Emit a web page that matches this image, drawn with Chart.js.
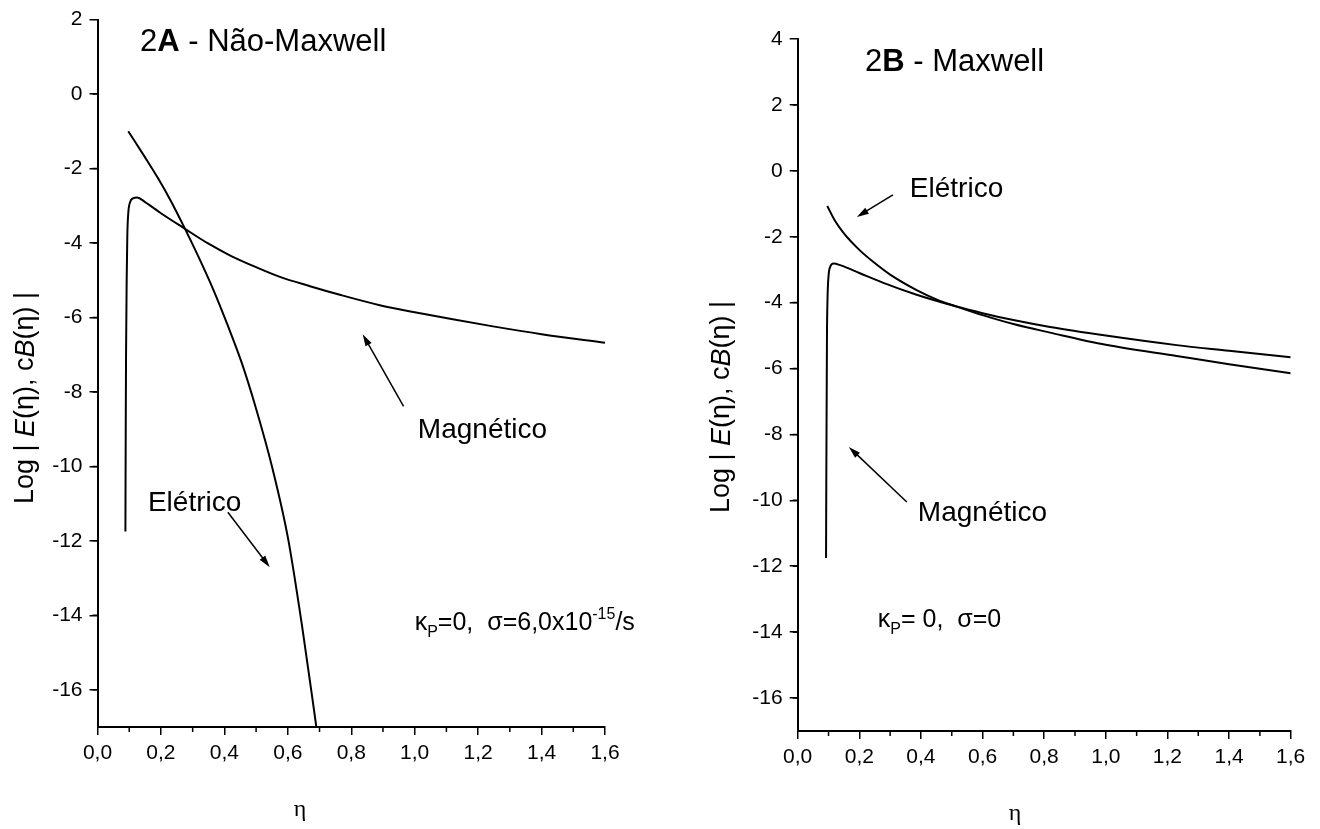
<!DOCTYPE html>
<html>
<head>
<meta charset="utf-8">
<script src="https://cdn.jsdelivr.net/npm/chart.js@4.4.1/dist/chart.umd.min.js"></script>
<style>
  html, body { margin: 0; padding: 0; background: #fff; }
  #wrap { position: relative; width: 1320px; height: 829px; overflow: hidden; }
  .panel { position: absolute; top: 0; width: 660px; height: 829px; }
</style>
</head>
<body>
<div id="wrap">
  <div class="panel" style="left:0"><canvas id="chartA" width="660" height="829"></canvas></div>
  <div class="panel" style="left:660px"><canvas id="chartB" width="660" height="829"></canvas></div>
</div>
<script>
// tick values
const etaTicks = [0, 0.2, 0.4, 0.6, 0.8, 1.0, 1.2, 1.4, 1.6];
const logTicksA = [2, 0, -2, -4, -6, -8, -10, -12, -14, -16];
const logTicksB = [4, 2, 0, -2, -4, -6, -8, -10, -12, -14, -16];

// 2A - Não-Maxwell
const etaMagA = [0.088, 0.089, 0.090, 0.092, 0.094, 0.097, 0.103, 0.112, 0.125, 0.15, 0.2, 0.276, 0.35, 0.417, 0.5, 0.575, 0.67, 0.764, 0.89, 1.0, 1.12, 1.247, 1.4, 1.6];
const logMagA = [-11.75, -9.0, -7.0, -5.0, -3.8, -3.2, -2.9, -2.8, -2.78, -2.9, -3.2, -3.62, -4.02, -4.33, -4.65, -4.91, -5.16, -5.39, -5.67, -5.86, -6.05, -6.24, -6.45, -6.68];
const etaEleA = [0.097, 0.12, 0.15, 0.19, 0.23, 0.276, 0.32, 0.365, 0.41, 0.454, 0.5, 0.55, 0.6, 0.646, 0.69];
const logEleA = [-1.0, -1.3, -1.7, -2.25, -2.85, -3.62, -4.4, -5.25, -6.2, -7.2, -8.45, -10.0, -11.9, -14.35, -17.0];

// 2B - Maxwell
const etaMagB = [0.092, 0.093, 0.094, 0.095, 0.097, 0.1, 0.106, 0.116, 0.14, 0.2, 0.278, 0.386, 0.516, 0.6, 0.7, 0.819, 1.0, 1.23, 1.4, 1.6];
const logMagB = [-11.75, -9.0, -7.0, -5.0, -3.8, -3.2, -2.9, -2.81, -2.87, -3.1, -3.4, -3.76, -4.12, -4.32, -4.53, -4.74, -5.0, -5.29, -5.46, -5.66];
const etaEleB = [0.096, 0.12, 0.15, 0.2, 0.25, 0.3, 0.386, 0.45, 0.516, 0.6, 0.7, 0.819, 1.0, 1.23, 1.4, 1.6];
const logEleB = [-1.07, -1.5, -1.9, -2.4, -2.8, -3.15, -3.62, -3.9, -4.12, -4.38, -4.65, -4.91, -5.28, -5.62, -5.87, -6.14];

const SANS = '"Liberation Sans", Arial, sans-serif';
const SERIF = '"Liberation Serif", "Times New Roman", serif';

function pts(xs, ys) {
  return xs.map((x, i) => ({ x: x, y: ys[i] }));
}

function curve(label, xs, ys) {
  return {
    label: label,
    data: pts(xs, ys),
    borderColor: '#000',
    borderWidth: 2,
    pointRadius: 0,
    fill: false,
    cubicInterpolationMode: 'monotone'
  };
}

// draws a run of text pieces: {t, style, size, dy}
function richText(ctx, x, y, parts, align) {
  let total = 0;
  parts.forEach(p => {
    ctx.font = (p.style || '') + ' ' + p.size + 'px ' + (p.family || SANS);
    p.w = ctx.measureText(p.t).width;
    total += p.w;
  });
  let cx = align === 'center' ? x - total / 2 : x;
  parts.forEach(p => {
    ctx.font = (p.style || '') + ' ' + p.size + 'px ' + (p.family || SANS);
    ctx.fillText(p.t, cx, y + (p.dy || 0));
    cx += p.w;
  });
}

function arrow(ctx, x1, y1, x2, y2) {
  const a = Math.atan2(y2 - y1, x2 - x1);
  const len = 12, half = 3.5;
  ctx.beginPath();
  ctx.moveTo(x1, y1);
  ctx.lineTo(x2 - Math.cos(a) * len * 0.6, y2 - Math.sin(a) * len * 0.6);
  ctx.lineWidth = 1.5;
  ctx.strokeStyle = '#000';
  ctx.stroke();
  ctx.beginPath();
  ctx.moveTo(x2, y2);
  ctx.lineTo(x2 - Math.cos(a) * len + Math.sin(a) * half, y2 - Math.sin(a) * len - Math.cos(a) * half);
  ctx.lineTo(x2 - Math.cos(a) * len - Math.sin(a) * half, y2 - Math.sin(a) * len + Math.cos(a) * half);
  ctx.closePath();
  ctx.fillStyle = '#000';
  ctx.fill();
}

const decorPlugin = {
  id: 'decor',
  afterDraw(chart) {
    const ctx = chart.ctx;
    const sx = chart.scales.x, sy = chart.scales.y;
    const o = chart.options.plugins.decor;
    const area = chart.chartArea;
    ctx.save();
    ctx.fillStyle = '#000';
    ctx.strokeStyle = '#000';

    // minor ticks
    ctx.lineWidth = 1.5;
    ctx.beginPath();
    for (let i = 0; i < etaTicks.length - 1; i++) {
      const px = sx.getPixelForValue((etaTicks[i] + etaTicks[i + 1]) / 2);
      ctx.moveTo(px, area.bottom);
      ctx.lineTo(px, area.bottom + 5);
    }
    for (let v = o.yMin + 1; v < o.yMax; v += 2) {
      const py = sy.getPixelForValue(v);
      ctx.moveTo(area.left, py);
      ctx.lineTo(area.left - 5, py);
    }
    ctx.stroke();

    ctx.textBaseline = 'alphabetic';
    // panel title
    const ts = o.title.size;
    richText(ctx, o.title.x, o.title.y, [
      { t: o.title.num, size: ts },
      { t: o.title.letter, size: ts, style: 'bold' },
      { t: o.title.rest, size: ts }
    ]);

    // y axis title, rotated
    ctx.save();
    ctx.translate(o.yTitle.x, o.yTitle.y);
    ctx.rotate(-Math.PI / 2);
    ctx.textBaseline = 'middle';
    richText(ctx, 0, 0, [
      { t: 'Log | ', size: 27 },
      { t: 'E', size: 27, style: 'italic' },
      { t: '(η), c', size: 27 },
      { t: 'B', size: 27, style: 'italic' },
      { t: '(η) |', size: 27 }
    ], 'center');
    ctx.restore();

    // x axis title
    ctx.textAlign = 'center';
    ctx.font = '24px ' + SERIF;
    ctx.fillText('η', o.xTitle.x, o.xTitle.y);
    ctx.textAlign = 'left';

    // labels and arrows, anchored in data coordinates
    o.notes.forEach(n => {
      richText(ctx, sx.getPixelForValue(n.x), sy.getPixelForValue(n.y), n.parts);
    });
    o.arrows.forEach(a => {
      arrow(ctx, sx.getPixelForValue(a[0]), sy.getPixelForValue(a[1]),
                 sx.getPixelForValue(a[2]), sy.getPixelForValue(a[3]));
    });
    ctx.restore();
  }
};

function makePanel(id, cfg) {
  const tickFont = { family: SANS, size: 21 };
  return new Chart(document.getElementById(id), {
    type: 'line',
    data: { datasets: cfg.datasets },
    options: {
      responsive: false,
      animation: false,
      events: [],
      layout: { autoPadding: false, padding: { left: 0, top: cfg.top, right: cfg.right, bottom: 0 } },
      plugins: {
        legend: { display: false },
        tooltip: { enabled: false },
        decor: cfg.decor
      },
      scales: {
        x: {
          type: 'linear', min: 0, max: 1.6,
          afterBuildTicks: s => { s.ticks = etaTicks.map(v => ({ value: v })); },
          afterFit: s => { s.height = cfg.xh; },
          grid: { drawOnChartArea: false, drawTicks: true, tickLength: 8, color: '#000', lineWidth: 1.5 },
          border: { display: true, color: '#000', width: 2 },
          ticks: {
            color: '#000', font: tickFont, padding: 6, maxRotation: 0, autoSkip: false,
            callback: v => v.toFixed(1).replace('.', ',')
          }
        },
        y: {
          type: 'linear', min: cfg.yMin, max: cfg.yMax,
          afterBuildTicks: s => { s.ticks = cfg.yTicks.map(v => ({ value: v })); },
          afterFit: s => { s.width = cfg.yw; },
          grid: { drawOnChartArea: false, drawTicks: true, tickLength: 8, color: '#000', lineWidth: 1.5 },
          border: { display: true, color: '#000', width: 2 },
          ticks: { color: '#000', font: tickFont, padding: 7, autoSkip: false, callback: v => String(v) }
        }
      }
    },
    plugins: [decorPlugin]
  });
}

makePanel('chartA', {
  datasets: [curve('Magnético', etaMagA, logMagA), curve('Elétrico', etaEleA, logEleA)],
  yMin: -17, yMax: 2, yTicks: logTicksA,
  top: 19, right: 55, xh: 102, yw: 97.5,
  decor: {
    yMin: -17, yMax: 2,
    title: { x: 140, y: 51, size: 31, num: '2', letter: 'A', rest: ' - Não-Maxwell' },
    yTitle: { x: 26, y: 398 },
    xTitle: { x: 300, y: 816 },
    notes: [
      { x: 1.01, y: -9.24, parts: [{ t: 'Magnético', size: 28 }] },
      { x: 0.159, y: -11.2, parts: [{ t: 'Elétrico', size: 28 }] },
      { x: 1.0, y: -14.4, parts: [
        { t: 'κ', size: 25 }, { t: 'P', size: 16, dy: 7 }, { t: '=0,  σ=6,0x10', size: 25 },
        { t: '-15', size: 16, dy: -11 }, { t: '/s', size: 25 }
      ] }
    ],
    arrows: [
      [0.965, -8.39, 0.836, -6.45],
      [0.411, -11.23, 0.543, -12.71]
    ]
  }
});

makePanel('chartB', {
  datasets: [curve('Magnético', etaMagB, logMagB), curve('Elétrico', etaEleB, logEleB)],
  yMin: -17, yMax: 4, yTicks: logTicksB,
  top: 39, right: 29.3, xh: 98, yw: 137.7,
  decor: {
    yMin: -17, yMax: 4,
    title: { x: 205, y: 71, size: 31, num: '2', letter: 'B', rest: ' - Maxwell' },
    yTitle: { x: 62, y: 407 },
    xTitle: { x: 355, y: 820 },
    notes: [
      { x: 0.364, y: -0.79, parts: [{ t: 'Elétrico', size: 28 }] },
      { x: 0.39, y: -10.63, parts: [{ t: 'Magnético', size: 28 }] },
      { x: 0.26, y: -13.84, parts: [
        { t: 'κ', size: 25 }, { t: 'P', size: 16, dy: 7 }, { t: '= 0,  σ=0', size: 25 }
      ] }
    ],
    arrows: [
      [0.309, -0.73, 0.192, -1.40],
      [0.354, -10.05, 0.166, -8.38]
    ]
  }
});
</script>
</body>
</html>
